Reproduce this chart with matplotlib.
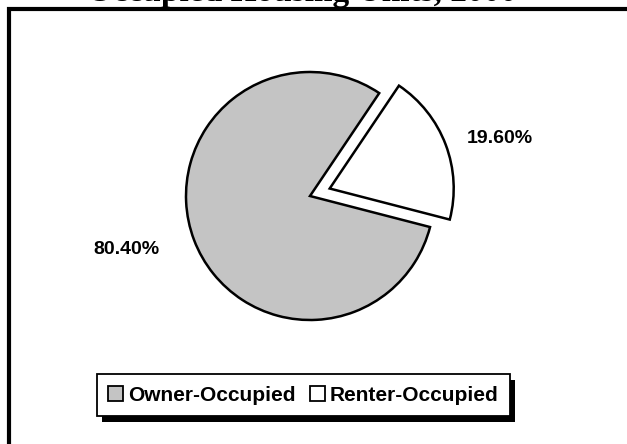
import matplotlib
matplotlib.use("Agg")
import matplotlib.pyplot as plt
from matplotlib.patches import Rectangle
import numpy as np

# data
labels = ["Owner-Occupied", "Renter-Occupied"]
shares = [80.40, 19.60]
colors = ["#c4c4c4", "#ffffff"]
explode = [0.0, 0.17]
label_dist = [1.54, 1.43]
title = "Occupied Housing Units, 2000"

plt.rcParams["font.family"] = ["Liberation Sans", "DejaVu Sans"]

fig = plt.figure(figsize=(6.27, 4.44), dpi=100)
fig.patch.set_facecolor("white")

# pie axes: 1 data unit = 124 px, centre at (310, 196) px from top-left
ax = fig.add_axes([62 / 627, 0.0, 496 / 627, 434 / 444])
wedges, texts, autotexts = ax.pie(
    shares, colors=colors, explode=explode, startangle=-14.5,
    counterclock=False, autopct="%.2f%%", pctdistance=1.5,
    wedgeprops=dict(edgecolor="black", linewidth=1.8),
    textprops=dict(fontsize=14, fontweight="bold", color="black"),
)
# Excel puts the data labels a little clockwise of the slice middle
for w, t, ex, d in zip(wedges, autotexts, explode, label_dist):
    mid = np.deg2rad((w.theta1 + w.theta2) / 2)
    ang = mid - np.deg2rad(4.5)
    x = ex * np.cos(mid) + d * np.cos(ang)
    y = ex * np.sin(mid) + d * np.sin(ang)
    t.set_position((x, y))
ax.set_xlim(-2, 2)
ax.set_ylim(-2, 1.5)
ax.set_aspect("auto")
ax.axis("off")

# title, mostly cut off at the top of the picture
fig.text(302 / 627, 442.5 / 444, title, ha="center", va="baseline",
         fontsize=24, fontweight="bold", family="Liberation Serif", zorder=1)

# outer frame of the chart area (runs past the right and bottom edges)
frame = Rectangle((9 / 627, -0.2), 1.2, 435 / 444 + 0.2,
                  transform=fig.transFigure, fill=False,
                  edgecolor="black", linewidth=3.0, clip_on=False, zorder=5)
fig.add_artist(frame)

leg = fig.legend(wedges, labels, loc="center", bbox_to_anchor=(303.5 / 627, 49 / 444),
                 ncol=2, frameon=True, fancybox=False, framealpha=1,
                 edgecolor="black", handlelength=0.7, handleheight=0.7,
                 handletextpad=0.25, columnspacing=0.7, borderpad=0.55,
                 borderaxespad=0, prop=dict(size=15, weight="bold"))
leg.get_frame().set_linewidth(1.3)
for h in leg.legend_handles:
    h.set_linewidth(1.3)

# solid drop shadow behind the legend box
fig.canvas.draw()
bb = leg.get_window_extent()
shadow = Rectangle((bb.x0 + 5, bb.y0 - 6), bb.width, bb.height,
                   transform=None, facecolor="black", edgecolor="none",
                   zorder=leg.get_zorder() - 0.1)
fig.add_artist(shadow)

fig.savefig("out.png", dpi=100, facecolor="white")
